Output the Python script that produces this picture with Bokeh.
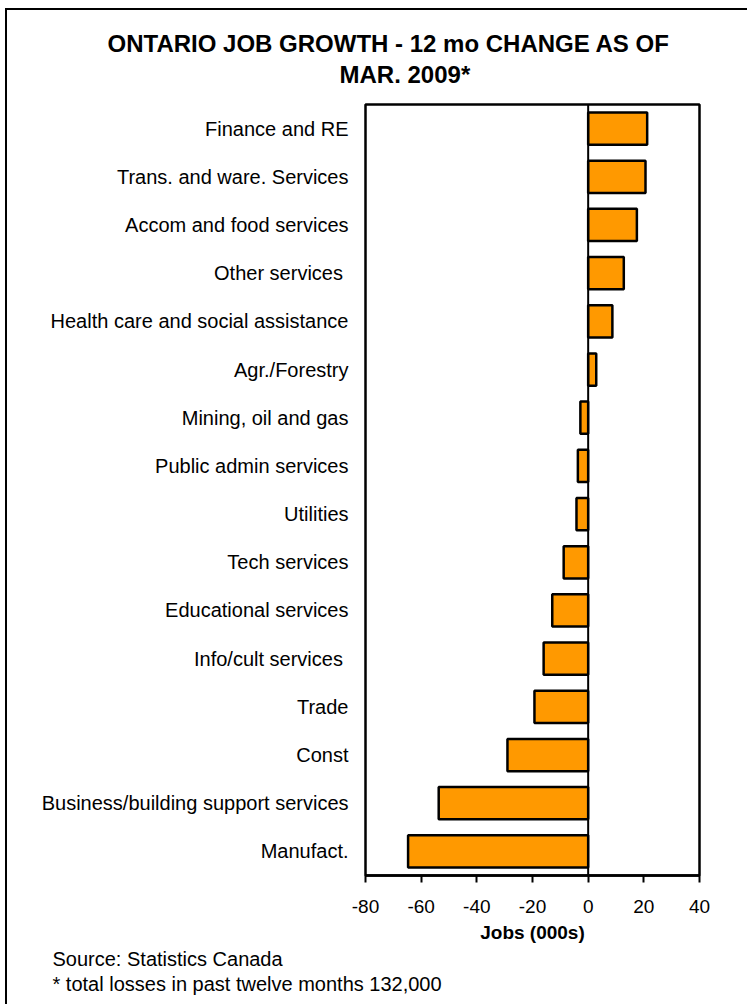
from bokeh.plotting import figure
from bokeh.models import ColumnDataSource, FactorRange, Span, Title, FixedTicker, CustomJSTickFormatter
from bokeh.embed import file_html
from bokeh.resources import INLINE

categories = [
    "Finance and RE",
    "Trans. and ware. Services",
    "Accom and food services",
    "Other services ",
    "Health care and social assistance",
    "Agr./Forestry",
    "Mining, oil and gas",
    "Public admin services",
    "Utilities",
    "Tech services",
    "Educational services",
    "Info/cult services ",
    "Trade",
    "Const",
    "Business/building support services",
    "Manufact.",
]
values = [21.2, 20.6, 17.5, 12.8, 8.7, 2.9, -2.8, -3.7, -4.2, -8.8, -12.9, -16.0, -19.3, -29.0, -53.7, -64.7]
x_ticks = [-80, -60, -40, -20, 0, 20, 40]

title_lines = ["ONTARIO JOB GROWTH - 12 mo CHANGE AS OF", "MAR. 2009*"]
x_title = "Jobs (000s)"
notes = ["Source: Statistics Canada", "* total losses in past twelve months 132,000"]

FONT = "Liberation Sans"
# canvas sits inside a 2px border that starts at (5, 8) in the window
OX, OY = 7, 10
W, H = 749 - OX, 1006 - OY
FL, FR, FT, FB = 365 - OX, 699 - OX, 104 - OY, 875 - OY

src = ColumnDataSource(dict(cat=categories, val=values))

p = figure(
    width=W, height=H,
    y_range=FactorRange(factors=list(reversed(categories))),
    x_range=(-80, 40),
    output_backend="svg", toolbar_location=None,
    min_border_left=FL, min_border_right=W - FR, min_border_top=FT, min_border_bottom=H - FB,
    styles={"margin-left": "5px", "margin-top": "8px",
            "border-left": "2px solid black", "border-top": "2px solid black"},
)
p.title.visible = False
p.background_fill_color = "white"
p.border_fill_color = "white"
p.outline_line_color = "black"
p.outline_line_width = 2.5
p.xgrid.visible = False
p.ygrid.visible = False

p.hbar(y="cat", right="val", left=0, height=0.67, source=src,
       fill_color="#FF9900", line_color="black", line_width=2.5)

p.add_layout(Span(location=0, dimension="height", line_color="black", line_width=2))

xa = p.xaxis[0]
xa.ticker = FixedTicker(ticks=x_ticks)
xa.formatter = CustomJSTickFormatter(code="return tick.toFixed(0)")
xa.axis_line_color = "black"
xa.axis_line_width = 2.5
xa.major_tick_line_width = 2
xa.major_tick_out = 7
xa.major_tick_in = 0
xa.minor_tick_out = 0
xa.minor_tick_in = 0
xa.major_label_text_font = FONT
xa.major_label_text_font_size = "19px"
xa.major_label_text_color = "black"
xa.major_label_standoff = 17
xa.axis_label = x_title
xa.axis_label_text_font = FONT
xa.axis_label_text_font_size = "19px"
xa.axis_label_text_font_style = "bold"
xa.axis_label_text_color = "black"
xa.axis_label_standoff = 6

ya = p.yaxis[0]
ya.axis_line_color = None
ya.major_tick_out = 0
ya.major_tick_in = 0
ya.minor_tick_out = 0
ya.major_label_text_font = FONT
ya.major_label_text_font_size = "20px"
ya.major_label_text_color = "black"
ya.major_label_standoff = 17

# titles above: the one added first sits nearest the frame (first one is a spacer)
p.add_layout(Title(text=" ", text_font=FONT, text_font_size="10px",
                   text_color="white", standoff=3), "above")
p.add_layout(Title(text=title_lines[1], text_font=FONT, text_font_size="24px",
                   text_font_style="bold", text_color="black", align="left",
                   offset=339 - 365, standoff=2), "above")
p.add_layout(Title(text=title_lines[0], text_font=FONT, text_font_size="24px",
                   text_font_style="bold", text_color="black", align="left",
                   offset=107 - 365, standoff=2), "above")

for t in notes:
    p.add_layout(Title(text=t, text_font=FONT, text_font_size="20px",
                       text_font_style="normal", text_color="black", align="left",
                       offset=52 - 365, standoff=1), "below")

open("out.html", "w").write(file_html(p, INLINE))
